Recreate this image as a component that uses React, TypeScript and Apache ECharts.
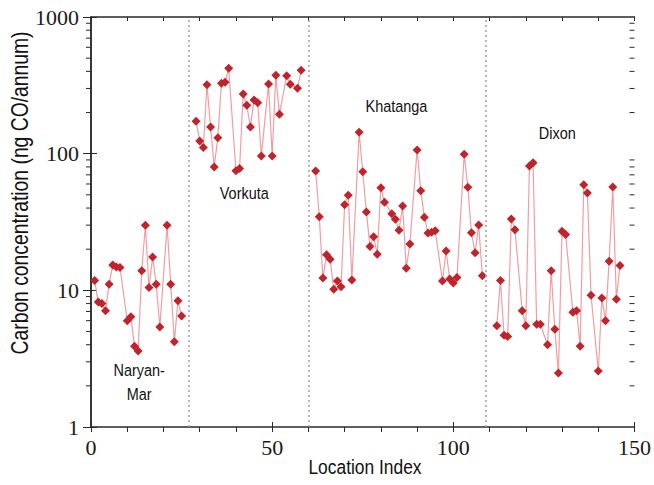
import React, { useEffect, useRef } from "react";
import * as echarts from "echarts";

// Location indices and carbon concentrations (ng CO/annum) for each station group
const naryanMarIdx = [1, 2, 3, 4, 5, 6, 7, 8, 10, 11, 12, 13, 14, 15, 16, 17, 18, 19, 21, 22, 23, 24, 25];
const naryanMarVal = [11.8, 8.2, 8.0, 7.1, 11.1, 15.3, 14.8, 14.7, 6.0, 6.4, 3.9, 3.6, 13.9, 29.9, 10.5, 17.5, 11.1, 5.4, 29.9, 11.1, 4.2, 8.4, 6.5];

const vorkutaIdx = [29, 30, 31, 32, 33, 34, 35, 36, 37, 38, 40, 41, 42, 43, 44, 45, 46, 47, 49, 50, 51, 52, 54, 55, 57, 58];
const vorkutaVal = [173, 124, 111, 320, 157, 80, 131, 327, 333, 422, 75, 78, 273, 226, 157, 247, 236, 96, 324, 96, 375, 194, 372, 322, 301, 408];

const khatangaIdx = [62, 63, 64, 65, 66, 67, 68, 69, 70, 71, 72, 74, 75, 76, 77, 78, 79, 80, 81, 83, 84, 85, 86, 87, 88, 90, 91, 92, 93, 94, 95, 97, 98, 99, 100, 101, 103, 104, 105, 106, 107, 108];
const khatangaVal = [74.7, 34.6, 12.3, 18.2, 16.9, 10.2, 11.7, 10.6, 42.2, 49.6, 11.9, 143.5, 73.8, 37.5, 20.9, 24.7, 18.4, 56.4, 44.1, 36.4, 33.1, 27.5, 41.4, 14.5, 21.8, 106.4, 53.6, 34.3, 26.3, 26.6, 27.3, 11.7, 19.4, 12.1, 11.3, 12.4, 99, 56.8, 26.4, 18.8, 30.1, 12.8];

const dixonIdx = [112, 113, 114, 115, 116, 117, 119, 120, 121, 122, 123, 124, 126, 127, 128, 129, 130, 131, 133, 134, 135, 136, 137, 138, 140, 141, 142, 143, 144, 145, 146];
const dixonVal = [5.5, 11.8, 4.7, 4.6, 33.3, 27.7, 7.1, 5.5, 81.3, 85.9, 5.65, 5.65, 4.0, 13.9, 5.2, 2.48, 27.1, 25.6, 6.9, 7.1, 3.9, 59.3, 51.6, 9.2, 2.57, 8.8, 6.0, 16.3, 57.1, 8.6, 15.2];

// Boundaries between station groups (location index)
const groupBoundaries = [27, 60, 109];

// Group names and where they sit in data space [index, concentration]
const groupNames = ["Naryan-\nMar", "Vorkuta", "Khatanga", "Dixon"];
const groupNameIdx = [13.3, 42.3, 84.3, 128.7];
const groupNameVal = [2.14, 51.6, 223, 141.7];

// Log-axis minor tick values
const minorTickValues = [2, 3, 4, 5, 6, 7, 8, 9, 20, 30, 40, 50, 60, 70, 80, 90, 200, 300, 400, 500, 600, 700, 800, 900];

const X_MIN = 0;
const X_MAX = 150;
const Y_MIN = 1;
const Y_MAX = 1000;

const SANS = "Liberation Sans";
const SERIF = "Liberation Serif";
const CONDENSE = 0.85;
const AXIS_COLOR = "#2a2a2a";
const MARKER_COLOR = "#c1232b";
const LINE_COLOR = "#f19ea3";

function zip(xs: number[], ys: number[]) {
  return xs.map((x, i) => [x, ys[i]]);
}

export default function App() {
  const ref = useRef<HTMLDivElement>(null);

  useEffect(() => {
    if (!ref.current) return;
    const chart = echarts.init(ref.current, null, { renderer: "svg" });

    const groups = [
      zip(naryanMarIdx, naryanMarVal),
      zip(vorkutaIdx, vorkutaVal),
      zip(khatangaIdx, khatangaVal),
      zip(dixonIdx, dixonVal),
    ];

    const dataSeries = groups.map((data, gi) => ({
      type: "line",
      xAxisIndex: 0,
      yAxisIndex: 0,
      data,
      symbol: "diamond",
      symbolSize: [9, 9],
      itemStyle: { color: MARKER_COLOR },
      lineStyle: { color: LINE_COLOR, width: 1.2 },
      z: 3,
      markLine:
        gi === 0
          ? {
              silent: true,
              symbol: "none",
              label: { show: false },
              lineStyle: { type: [2, 3], color: "#a0a0a0", width: 1.5 },
              data: groupBoundaries.map((b) => ({ xAxis: b })),
            }
          : undefined,
    }));

    const hiddenAxis = {
      axisLine: { show: false },
      axisLabel: { show: false },
      splitLine: { show: false },
    };

    const tickLabelStyle = {
      fontFamily: SERIF,
      fontSize: 22,
      color: "#1a1a1a",
    };

    const option: any = {
      animation: false,
      backgroundColor: "#ffffff",
      grid: { left: 91, right: 15, top: 17, bottom: 58 },
      xAxis: [
        {
          type: "value",
          position: "bottom",
          min: X_MIN,
          max: X_MAX,
          interval: 10,
          axisLine: { show: true, lineStyle: { color: AXIS_COLOR, width: 1.5 } },
          axisTick: { show: true, inside: false, length: 5, lineStyle: { color: AXIS_COLOR, width: 1 } },
          axisLabel: {
            margin: 9,
            ...tickLabelStyle,
            formatter: (v: number) => (v % 50 === 0 ? String(v) : ""),
          },
          splitLine: { show: false },
        },
        {
          type: "value",
          position: "top",
          min: X_MIN,
          max: X_MAX,
          interval: 10,
          axisLine: { show: true, lineStyle: { color: AXIS_COLOR, width: 1.5 } },
          axisTick: { show: true, inside: true, length: 4, lineStyle: { color: AXIS_COLOR, width: 1 } },
          axisLabel: { show: false },
          splitLine: { show: false },
        },
        {
          type: "value",
          position: "bottom",
          min: X_MIN,
          max: X_MAX,
          interval: 50,
          ...hiddenAxis,
          axisTick: { show: true, inside: true, length: 5, lineStyle: { color: AXIS_COLOR, width: 1 } },
        },
      ],
      yAxis: [
        {
          type: "log",
          logBase: 10,
          position: "left",
          min: Y_MIN,
          max: Y_MAX,
          axisLine: { show: true, lineStyle: { color: AXIS_COLOR, width: 1.5 } },
          axisTick: { show: true, inside: false, length: 8, lineStyle: { color: AXIS_COLOR, width: 1 } },
          axisLabel: {
            margin: 12,
            ...tickLabelStyle,
            formatter: (v: number) => String(Math.round(v)),
          },
          splitLine: { show: false },
        },
        {
          type: "log",
          logBase: 10,
          position: "right",
          min: Y_MIN,
          max: Y_MAX,
          axisLine: { show: true, lineStyle: { color: AXIS_COLOR, width: 1.5 } },
          axisTick: { show: true, inside: true, length: 8, lineStyle: { color: AXIS_COLOR, width: 1 } },
          axisLabel: { show: false },
          splitLine: { show: false },
        },
        {
          type: "log",
          logBase: 10,
          position: "left",
          min: Y_MIN,
          max: Y_MAX,
          ...hiddenAxis,
          axisTick: { show: true, inside: true, length: 6, lineStyle: { color: AXIS_COLOR, width: 1 } },
        },
      ],
      graphic: [
        {
          type: "text",
          x: 20,
          y: 193,
          rotation: Math.PI / 2,
          scaleX: 0.84,
          silent: true,
          style: {
            text: "Carbon concentration (ng CO/annum)",
            fontFamily: SANS,
            fontSize: 23,
            fill: "#111",
            align: "center",
            verticalAlign: "middle",
          },
        },
        {
          type: "text",
          x: 365,
          y: 467,
          scaleX: 0.87,
          silent: true,
          style: {
            text: "Location Index",
            fontFamily: SANS,
            fontSize: 20,
            fill: "#111",
            align: "center",
            verticalAlign: "middle",
          },
        },
      ],
      series: [
        ...dataSeries,
        {
          // minor log ticks on the left (outside) and right (inside) frame
          type: "custom",
          xAxisIndex: 0,
          yAxisIndex: 0,
          silent: true,
          clip: false,
          z: 1,
          data: minorTickValues.map((v) => [X_MIN, v]),
          renderItem: (_params: any, api: any) => {
            const v = api.value(1);
            const l = api.coord([X_MIN, v]);
            const r = api.coord([X_MAX, v]);
            const stroke = { stroke: AXIS_COLOR, lineWidth: 1 };
            return {
              type: "group",
              children: [
                { type: "line", shape: { x1: l[0] - 5, y1: l[1], x2: l[0], y2: l[1] }, style: stroke },
                { type: "line", shape: { x1: r[0] - 5, y1: r[1], x2: r[0], y2: r[1] }, style: stroke },
              ],
            };
          },
        },
        {
          // group names placed in data space
          type: "custom",
          xAxisIndex: 0,
          yAxisIndex: 0,
          silent: true,
          clip: false,
          z: 4,
          data: zip(groupNameIdx, groupNameVal),
          renderItem: (params: any, api: any) => {
            const p = api.coord([api.value(0), api.value(1)]);
            return {
              type: "text",
              x: p[0],
              y: p[1],
              scaleX: CONDENSE,
              style: {
                text: groupNames[params.dataIndex],
                fontFamily: SANS,
                fontSize: 17,
                lineHeight: 24,
                fill: "#111",
                align: "center",
                verticalAlign: "middle",
              },
            };
          },
        },
      ],
    };

    chart.setOption(option);
    return () => chart.dispose();
  }, []);

  return (
    <div
      ref={ref}
      style={{ position: "fixed", left: 0, top: 0, width: 654, height: 485, background: "#fff" }}
    />
  );
}
